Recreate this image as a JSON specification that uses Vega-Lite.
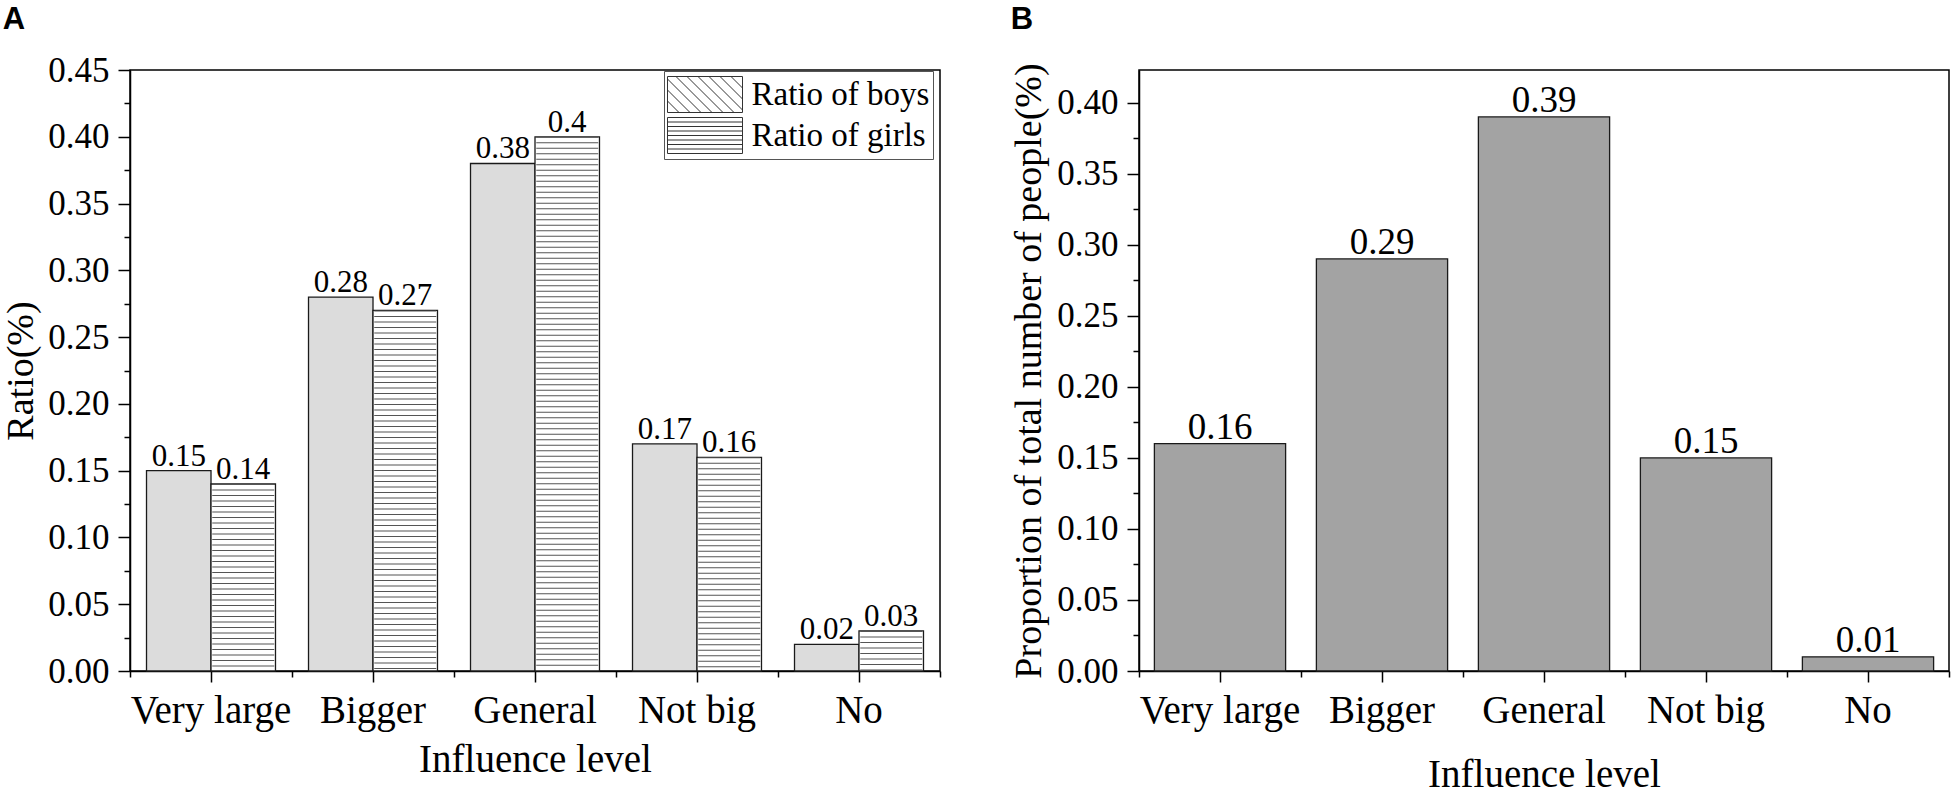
{
  "$schema": "https://vega.github.io/schema/vega-lite/v6.json",
  "autosize": {"type": "pad"},
  "padding": {"left": 2, "top": 3, "right": 0, "bottom": 0},
  "background": "white",
  "spacing": 199,
  "bounds": "flush",
  "config": {
    "view": {"stroke": "#000", "strokeWidth": 1.5},
    "font": "Liberation Serif",
    "axis": {"domainColor": "#000", "domainWidth": 1.5, "tickColor": "#000", "tickWidth": 1.5, "labelColor": "#000", "titleColor": "#000", "labelFont": "Liberation Serif", "titleFont": "Liberation Serif", "titleFontWeight": "normal", "grid": false},
    "title": {"font": "Liberation Sans", "fontSize": 31, "fontWeight": "bold", "color": "#000", "anchor": "start", "frame": "bounds"}
  },
  "datasets": {
    "a": [
      {"level": "Very large", "sex": "Ratio of boys", "value": 0.15},
      {"level": "Very large", "sex": "Ratio of girls", "value": 0.14},
      {"level": "Bigger", "sex": "Ratio of boys", "value": 0.28},
      {"level": "Bigger", "sex": "Ratio of girls", "value": 0.27},
      {"level": "General", "sex": "Ratio of boys", "value": 0.38},
      {"level": "General", "sex": "Ratio of girls", "value": 0.4},
      {"level": "Not big", "sex": "Ratio of boys", "value": 0.17},
      {"level": "Not big", "sex": "Ratio of girls", "value": 0.16},
      {"level": "No", "sex": "Ratio of boys", "value": 0.02},
      {"level": "No", "sex": "Ratio of girls", "value": 0.03}
    ],
    "b": [
      {"level": "Very large", "value": 0.16},
      {"level": "Bigger", "value": 0.29},
      {"level": "General", "value": 0.39},
      {"level": "Not big", "value": 0.15},
      {"level": "No", "value": 0.01}
    ]
  },
  "hconcat": [
    {
      "width": 810,
      "height": 601,
      "title": {"text": "A", "offset": 17},
      "data": {"name": "a"},
      "encoding": {
        "xOffset": {"field": "sex", "type": "nominal", "scale": {"paddingInner": 0, "paddingOuter": 0.256}}
      },
      "layer": [
        {
          "mark": {"type": "bar", "stroke": "#1a1a1a", "strokeWidth": 1.3},
          "encoding": {
            "x": {"field": "level", "type": "nominal", "sort": ["Very large", "Bigger", "General", "Not big", "No"], "scale": {"paddingInner": 0, "paddingOuter": 0},
                  "axis": {"title": "Influence level", "titleFontSize": 39, "titlePadding": 10, "labelAngle": 0, "labelFontSize": 39, "labelPadding": 9, "tickSize": 11}},
            "y": {"field": "value", "type": "quantitative", "scale": {"domain": [0, 0.45], "nice": false},
                  "axis": {"title": "Ratio(%)", "titleFontSize": 38, "titlePadding": 7, "values": [0, 0.05, 0.1, 0.15, 0.2, 0.25, 0.3, 0.35, 0.4, 0.45], "format": ".2f", "labelFontSize": 35, "labelPadding": 9, "tickSize": 12}},
            "fill": {"condition": {"test": "datum.sex === 'Ratio of boys'", "value": "#dcdcdc"}, "value": "#ffffff"}
          }
        },
        {
          "transform": [{"filter": "datum.sex === 'Ratio of girls'"}],
          "mark": {"type": "rule", "strokeDash": [1, 4.5], "strokeCap": "butt", "color": "#555", "strokeWidth": 62},
          "encoding": {
            "x": {"field": "level", "type": "nominal", "sort": ["Very large", "Bigger", "General", "Not big", "No"],
                  "axis": {"title": null, "labels": false, "domain": false, "tickSize": 6, "tickBand": "extent", "orient": "bottom"}},
            "y": {"field": "value", "type": "quantitative",
                  "axis": {"title": null, "labels": false, "domain": false, "tickSize": 6, "orient": "left", "values": [0.025, 0.075, 0.125, 0.175, 0.225, 0.275, 0.325, 0.375, 0.425]}},
            "y2": {"datum": 0}
          }
        },
        {
          "mark": {"type": "text", "fontSize": 31, "baseline": "alphabetic", "dy": -5, "font": "Liberation Serif", "color": "#000"},
          "encoding": {
            "x": {"field": "level", "type": "nominal", "sort": ["Very large", "Bigger", "General", "Not big", "No"], "axis": null},
            "y": {"field": "value", "type": "quantitative", "axis": null},
            "text": {"field": "value", "type": "nominal"}
          }
        },
        {
          "mark": {"type": "point", "filled": true, "size": 0, "strokeWidth": 1},
          "encoding": {
            "x": {"field": "level", "type": "nominal", "sort": ["Very large", "Bigger", "General", "Not big", "No"], "axis": null},
            "y": {"field": "value", "type": "quantitative", "axis": null},
            "fill": {"field": "sex", "type": "nominal", "scale": {"domain": ["Ratio of boys", "Ratio of girls"], "range": ["#ffffff", "#ffffff"]},
                     "legend": {"title": null, "orient": "none", "legendX": 534, "legendY": 1, "padding": 3, "strokeColor": "#555", "fillColor": "white",
                                "labelFont": "Liberation Serif", "labelFontSize": 33, "labelColor": "#000", "labelLimit": 400, "symbolSize": 1600, "symbolOffset": 17.5, "labelOffset": 26, "rowPadding": 0,
                                "symbolStrokeWidth": 1, "symbolOpacity": 1}},
            "stroke": {"field": "sex", "type": "nominal", "scale": {"domain": ["Ratio of boys", "Ratio of girls"], "range": ["#333333", "#333333"]},
                     "legend": {"title": null, "orient": "none", "legendX": 534, "legendY": 1, "padding": 3, "strokeColor": "#555", "fillColor": "white",
                                "labelFont": "Liberation Serif", "labelFontSize": 33, "labelColor": "#000", "labelLimit": 400, "symbolSize": 1600, "symbolOffset": 17.5, "labelOffset": 26, "rowPadding": 0,
                                "symbolStrokeWidth": 1, "symbolOpacity": 1}},
            "shape": {"field": "sex", "type": "nominal", "scale": {"domain": ["Ratio of boys", "Ratio of girls"], "range": [
                        "M-1.875,-0.9H1.875V0.9H-1.875Z M-1.875,0.325L-1.3,0.9 M-1.875,-0.225L-0.75,0.9 M-1.875,-0.775L-0.2,0.9 M-1.45,-0.9L0.35,0.9 M-0.9,-0.9L0.9,0.9 M-0.35,-0.9L1.45,0.9 M0.2,-0.9L1.875,0.775 M0.75,-0.9L1.875,0.225 M1.3,-0.9L1.875,-0.325",
                        "M-1.875,-0.9H1.875V0.9H-1.875Z M-1.875,-0.675H1.875 M-1.875,-0.45H1.875 M-1.875,-0.225H1.875 M-1.875,0H1.875 M-1.875,0.225H1.875 M-1.875,0.45H1.875 M-1.875,0.675H1.875"]},
                     "legend": {"title": null, "orient": "none", "legendX": 534, "legendY": 1, "padding": 3, "strokeColor": "#555", "fillColor": "white",
                                "labelFont": "Liberation Serif", "labelFontSize": 33, "labelColor": "#000", "labelLimit": 400, "symbolSize": 1600, "symbolOffset": 17.5, "labelOffset": 26, "rowPadding": 0,
                                "symbolStrokeWidth": 1, "symbolOpacity": 1}}
          }
        }
      ],
      "resolve": {"axis": {"x": "independent", "y": "independent"}}
    },
    {
      "width": 810,
      "height": 601,
      "title": {"text": "B", "offset": 27},
      "data": {"name": "b"},
      "layer": [
        {
          "mark": {"type": "bar", "fill": "#a3a3a3", "stroke": "#1a1a1a", "strokeWidth": 1.3, "width": {"band": 0.81}},
          "encoding": {
            "x": {"field": "level", "type": "nominal", "sort": ["Very large", "Bigger", "General", "Not big", "No"], "scale": {"paddingInner": 0, "paddingOuter": 0},
                  "axis": {"title": "Influence level", "titleFontSize": 39, "titlePadding": 25, "labelAngle": 0, "labelFontSize": 39, "labelPadding": 9, "tickSize": 11}},
            "y": {"field": "value", "type": "quantitative", "scale": {"domain": [0, 0.423], "nice": false},
                  "axis": {"title": "Proportion of total number of people(%)", "titleFontSize": 38, "titlePadding": 8, "values": [0, 0.05, 0.1, 0.15, 0.2, 0.25, 0.3, 0.35, 0.4], "format": ".2f", "labelFontSize": 35, "labelPadding": 9, "tickSize": 12}}
          }
        },
        {
          "mark": {"type": "text", "fontSize": 37, "baseline": "alphabetic", "dy": -5, "font": "Liberation Serif", "color": "#000"},
          "encoding": {
            "x": {"field": "level", "type": "nominal", "sort": ["Very large", "Bigger", "General", "Not big", "No"],
                  "axis": {"title": null, "labels": false, "domain": false, "tickSize": 6, "tickBand": "extent", "orient": "bottom"}},
            "y": {"field": "value", "type": "quantitative",
                  "axis": {"title": null, "labels": false, "domain": false, "tickSize": 6, "orient": "left", "values": [0.025, 0.075, 0.125, 0.175, 0.225, 0.275, 0.325, 0.375]}},
            "text": {"field": "value", "type": "nominal"}
          }
        }
      ],
      "resolve": {"axis": {"x": "independent", "y": "independent"}}
    }
  ]
}
